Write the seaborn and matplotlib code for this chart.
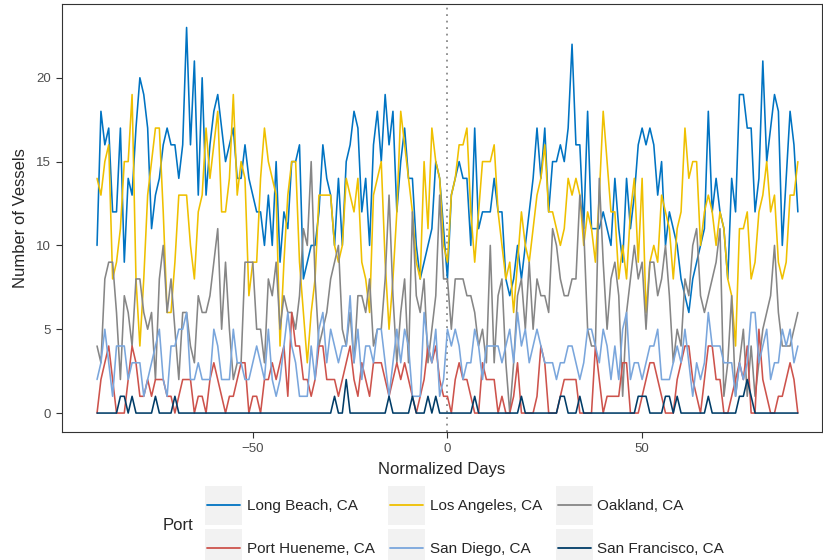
import matplotlib
matplotlib.use("Agg")
import matplotlib.pyplot as plt
import seaborn as sns
import pandas as pd
from matplotlib.lines import Line2D
from matplotlib.patches import Rectangle
from matplotlib.legend_handler import HandlerBase

# normalized days -90 .. 90
days = list(range(-90, 91))

long_beach = [
    10, 18, 16, 17, 12, 12, 17, 9, 14, 13,
    17, 20, 19, 17, 11, 13, 14, 16, 17, 16,
    16, 14, 16, 23, 16, 21, 13, 20, 13, 16,
    18, 19, 17, 15, 16, 17, 14, 14, 16, 14,
    13, 12, 12, 10, 13, 10, 15, 9, 12, 11,
    15, 15, 16, 8, 9, 10, 10, 12, 16, 14,
    13, 10, 14, 10, 15, 16, 18, 17, 12, 14,
    10, 16, 18, 15, 19, 16, 18, 12, 15, 17,
    14, 14, 10, 8, 9, 10, 11, 15, 14, 11,
    8, 13, 14, 15, 14, 14, 10, 17, 11, 12,
    12, 12, 14, 12, 12, 8, 7, 8, 10, 8,
    10, 12, 14, 17, 14, 17, 12, 15, 15, 16,
    15, 17, 22, 16, 16, 11, 18, 11, 11, 11,
    12, 11, 10, 14, 11, 9, 14, 11, 13, 16,
    17, 16, 17, 16, 13, 15, 10, 12, 11, 10,
    8, 7, 6, 8, 9, 10, 11, 18, 12, 14,
    12, 11, 8, 14, 12, 19, 19, 17, 17, 12,
    14, 21, 15, 17, 19, 18, 10, 14, 18, 16,
    12,
]

los_angeles = [
    14, 13, 15, 16, 8, 9, 11, 15, 15, 19,
    8, 4, 8, 13, 15, 17, 17, 12, 6, 6,
    9, 13, 13, 13, 10, 8, 12, 13, 17, 14,
    16, 18, 12, 12, 14, 19, 13, 15, 14, 7,
    9, 9, 14, 17, 15, 14, 13, 4, 9, 13,
    15, 15, 9, 6, 3, 6, 8, 13, 13, 13,
    13, 10, 9, 10, 14, 13, 12, 14, 9, 8,
    6, 13, 14, 15, 9, 5, 8, 12, 18, 16,
    14, 12, 9, 8, 15, 11, 17, 15, 14, 10,
    9, 13, 14, 16, 16, 17, 12, 9, 12, 15,
    15, 15, 16, 12, 10, 8, 9, 6, 9, 12,
    10, 9, 11, 13, 14, 16, 12, 12, 11, 10,
    11, 14, 13, 14, 13, 10, 12, 11, 9, 13,
    18, 15, 12, 12, 8, 10, 8, 12, 14, 9,
    14, 6, 9, 10, 9, 13, 12, 11, 8, 11,
    12, 17, 14, 15, 15, 10, 12, 13, 12, 10,
    12, 11, 8, 7, 4, 11, 11, 12, 8, 9,
    12, 13, 15, 12, 13, 9, 8, 9, 13, 13,
    15,
]

oakland = [
    4, 3, 8, 9, 9, 6, 2, 7, 6, 4,
    8, 8, 6, 5, 6, 2, 8, 10, 6, 8,
    5, 2, 6, 6, 4, 3, 7, 6, 6, 7,
    9, 11, 5, 9, 5, 2, 3, 3, 9, 9,
    9, 5, 5, 3, 8, 7, 9, 5, 7, 6,
    6, 5, 7, 11, 10, 15, 8, 4, 5, 6,
    8, 9, 10, 5, 4, 6, 3, 7, 7, 6,
    8, 4, 5, 5, 8, 13, 7, 3, 6, 8,
    3, 12, 7, 6, 8, 3, 5, 7, 13, 8,
    8, 5, 8, 8, 8, 7, 7, 6, 4, 5,
    3, 10, 3, 7, 8, 3, 0, 3, 7, 8,
    5, 9, 5, 8, 7, 7, 6, 11, 10, 8,
    7, 7, 8, 8, 13, 11, 5, 4, 4, 14,
    9, 5, 8, 9, 7, 1, 6, 8, 10, 8,
    9, 5, 9, 9, 7, 8, 10, 7, 3, 5,
    4, 8, 7, 10, 11, 7, 6, 7, 8, 9,
    11, 1, 3, 7, 1, 3, 5, 1, 4, 1,
    3, 5, 6, 7, 10, 6, 4, 4, 4, 5,
    6,
]

port_hueneme = [
    0, 2, 3, 4, 2, 0, 0, 0, 2, 4,
    3, 1, 1, 2, 1, 2, 2, 2, 1, 1,
    0, 1, 2, 2, 2, 0, 1, 1, 0, 2,
    3, 2, 1, 0, 1, 1, 2, 3, 3, 0,
    1, 1, 0, 2, 2, 3, 2, 3, 4, 1,
    6, 4, 4, 2, 2, 1, 2, 4, 4, 2,
    2, 2, 1, 2, 3, 4, 2, 1, 3, 2,
    1, 3, 3, 3, 2, 1, 2, 3, 2, 3,
    2, 1, 0, 1, 2, 4, 3, 4, 2, 1,
    1, 0, 2, 3, 2, 2, 1, 0, 0, 3,
    2, 2, 2, 0, 1, 0, 0, 1, 3, 0,
    0, 0, 0, 1, 4, 3, 0, 0, 0, 1,
    2, 2, 2, 2, 0, 0, 0, 0, 4, 2,
    0, 1, 1, 1, 1, 3, 3, 0, 0, 0,
    1, 2, 3, 3, 2, 1, 0, 0, 0, 2,
    3, 4, 4, 2, 1, 0, 2, 4, 4, 2,
    2, 0, 0, 1, 2, 3, 2, 4, 0, 0,
    5, 2, 1, 0, 0, 1, 1, 2, 3, 2,
    0,
]

san_diego = [
    2, 3, 5, 3, 1, 4, 4, 4, 2, 3,
    3, 3, 1, 2, 3, 4, 5, 2, 1, 4,
    4, 5, 5, 6, 2, 2, 3, 2, 2, 2,
    5, 4, 2, 2, 2, 5, 3, 3, 2, 2,
    3, 4, 3, 2, 5, 2, 1, 2, 4, 6,
    4, 3, 1, 1, 1, 4, 2, 5, 6, 3,
    5, 4, 3, 4, 4, 7, 3, 5, 2, 4,
    4, 3, 5, 5, 3, 1, 3, 5, 3, 5,
    4, 1, 1, 1, 6, 4, 3, 5, 1, 2,
    5, 4, 5, 4, 2, 3, 3, 5, 4, 2,
    4, 4, 4, 4, 3, 4, 5, 3, 6, 4,
    5, 3, 4, 5, 4, 3, 3, 3, 2, 3,
    3, 4, 4, 3, 2, 3, 5, 5, 4, 3,
    5, 4, 2, 4, 2, 5, 6, 2, 3, 3,
    2, 3, 4, 4, 5, 2, 2, 2, 3, 4,
    3, 5, 3, 1, 3, 2, 3, 6, 4, 4,
    4, 3, 3, 3, 1, 3, 2, 3, 6, 6,
    3, 4, 5, 2, 3, 3, 5, 4, 5, 3,
    4,
]

san_francisco = [
    0, 0, 0, 0, 0, 0, 1, 1, 0, 1,
    0, 0, 0, 0, 0, 1, 0, 0, 0, 0,
    1, 0, 0, 0, 0, 0, 0, 0, 0, 0,
    0, 0, 0, 0, 0, 0, 0, 0, 0, 0,
    0, 0, 0, 0, 0, 0, 0, 0, 0, 0,
    0, 0, 0, 0, 0, 0, 0, 0, 0, 0,
    0, 1, 0, 0, 2, 0, 0, 0, 0, 0,
    0, 0, 0, 0, 0, 1, 0, 0, 0, 0,
    0, 1, 0, 0, 0, 1, 0, 1, 0, 0,
    0, 0, 0, 0, 0, 0, 0, 1, 0, 0,
    0, 0, 0, 0, 0, 0, 0, 0, 0, 1,
    0, 0, 0, 0, 0, 0, 0, 0, 0, 1,
    1, 0, 0, 0, 1, 0, 0, 0, 0, 0,
    0, 0, 0, 0, 0, 0, 0, 0, 0, 1,
    1, 1, 0, 0, 0, 0, 1, 1, 0, 1,
    0, 0, 0, 0, 0, 0, 0, 1, 0, 0,
    0, 0, 0, 0, 0, 1, 1, 2, 1, 0,
    0, 0, 0, 0, 0, 0, 0, 0, 0, 0,
    0,
]

ports = ["Long Beach, CA", "Los Angeles, CA", "Oakland, CA",
         "Port Hueneme, CA", "San Diego, CA", "San Francisco, CA"]
series = [long_beach, los_angeles, oakland, port_hueneme, san_diego, san_francisco]
colors = ["#0073C2", "#EFC000", "#868686", "#CD534C", "#7AA6DC", "#003C67"]

frames = []
for port, values in zip(ports, series):
    frames.append(pd.DataFrame({"day": days, "vessels": values, "port": port}))
df = pd.concat(frames, ignore_index=True)

sns.set_style("ticks")
plt.rcParams["font.family"] = ["Liberation Sans", "DejaVu Sans"]

fig = plt.figure(figsize=(8.23, 5.6), dpi=100)
ax = fig.add_axes([62 / 823, 1 - 432 / 560, 760 / 823, 428 / 560])

ax.axvline(0, color="#8a8a8a", linestyle=(0, (1, 2.6)), lw=1.3, zorder=1)
sns.lineplot(data=df, x="day", y="vessels", hue="port", hue_order=ports,
             palette=colors, lw=1.15, legend=False, errorbar=None,
             estimator=None, ax=ax, zorder=2)

ax.set_xlim(-99, 96.2)
ax.set_ylim(-1.13, 24.4)
ax.set_xticks([-50, 0, 50])
ax.set_yticks([0, 5, 10, 15, 20])
ax.tick_params(direction="out", length=4, width=0.8, color="#333333",
               labelcolor="#4d4d4d", labelsize=9.5, pad=4)
for s in ax.spines.values():
    s.set_color("#333333")
    s.set_linewidth(0.8)
ax.set_xlabel("Normalized Days", fontsize=12, labelpad=5)
ax.set_ylabel("Number of Vessels", fontsize=12, labelpad=6)


# legend keys drawn as ggplot-style grey boxes with a line through them
class KeyHandler(HandlerBase):
    def create_artists(self, legend, orig_handle, xdescent, ydescent,
                       width, height, fontsize, trans):
        bg = Rectangle((-xdescent, -ydescent), width, height,
                       facecolor="#f2f2f2", edgecolor="none", transform=trans)
        y = -ydescent + height / 2
        ln = Line2D([-xdescent + 0.05 * width, -xdescent + 0.95 * width], [y, y],
                    color=orig_handle.get_color(), lw=orig_handle.get_linewidth(),
                    transform=trans)
        return [bg, ln]


handles = [Line2D([], [], color=c, lw=1.3) for c in colors]
order = [0, 3, 1, 4, 2, 5]
fig.legend([handles[i] for i in order], [ports[i] for i in order],
           loc="upper left", bbox_to_anchor=(205 / 823, 1 - 486 / 560),
           ncol=3, frameon=False, borderpad=0, borderaxespad=0,
           handlelength=2.42, handleheight=3.5, handletextpad=0.3,
           columnspacing=0.9, labelspacing=0.3, fontsize=11,
           handler_map={Line2D: KeyHandler()})
fig.text(163 / 823, 1 - 525 / 560, "Port", fontsize=12, va="center", ha="left")

fig.savefig("out.png", dpi=100)
